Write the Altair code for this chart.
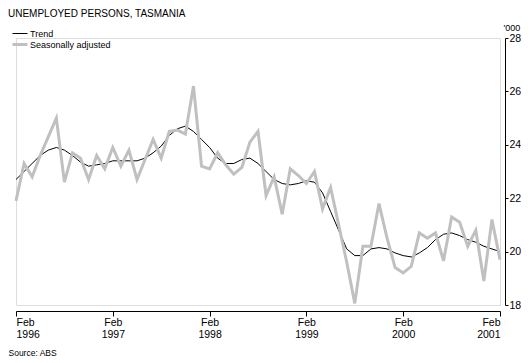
import altair as alt
import pandas as pd

# Monthly observations, Feb 1996 .. Feb 2001 ('000 persons)
trend = [22.7, 23.0, 23.3, 23.6, 23.8, 23.9, 23.8, 23.6, 23.35, 23.2, 23.25, 23.3,
         23.4, 23.4, 23.4, 23.4, 23.5, 23.7, 23.95, 24.35, 24.6, 24.7, 24.5, 24.2,
         23.9, 23.5, 23.3, 23.3, 23.45, 23.5, 23.3, 23.0, 22.7, 22.55, 22.5, 22.55,
         22.65, 22.6, 22.2, 21.5, 20.8, 20.1, 19.85, 19.85, 20.1, 20.15, 20.1, 19.95,
         19.85, 19.8, 19.95, 20.15, 20.45, 20.65, 20.7, 20.6, 20.45, 20.35, 20.2, 20.1,
         20.0]
seas_adj = [21.9, 23.3, 22.8, 23.6, 24.3, 25.0, 22.6, 23.7, 23.5, 22.7, 23.6, 23.1,
            23.9, 23.2, 23.8, 22.7, 23.45, 24.2, 23.5, 24.5, 24.55, 24.4, 26.2, 23.2,
            23.1, 23.7, 23.25, 22.9, 23.15, 24.1, 24.5, 22.1, 22.8, 21.4, 23.1, 22.85,
            22.55, 23.0, 21.6, 22.4, 21.0, 19.6, 18.06, 20.2, 20.2, 21.8, 20.5, 19.4,
            19.2, 19.45, 20.7, 20.5, 20.7, 19.65, 21.3, 21.1, 20.2, 20.8, 18.9, 21.2,
            19.7]
series_names = ["Trend", "Seasonally adjusted"]
series_colors = ["#000000", "#c0c0c0"]
series_widths = [1, 3]
tick_months = [0, 12, 24, 36, 48, 60]
y_ticks = [18, 20, 22, 24, 26, 28]

n = len(trend)
df = pd.DataFrame({
    "t": list(range(n)) * 2,
    "value": trend + seas_adj,
    "series": [series_names[0]] * n + [series_names[1]] * n,
})

FONT = "Liberation Sans"

legend = alt.Legend(
    title=None, orient="none", legendX=-5, legendY=-10, direction="vertical",
    symbolType="stroke", symbolSize=225, clipHeight=11, labelFontSize=9,
    labelFont=FONT, labelColor="#000000", padding=0, rowPadding=0,
    labelOffset=1, symbolOffset=0,
)

chart = alt.Chart(df).mark_line(strokeJoin="miter").encode(
    x=alt.X("t:Q",
            scale=alt.Scale(domain=[0, 60], nice=False, zero=False),
            axis=alt.Axis(values=tick_months, grid=False, offset=6,
                          labelExpr="['Feb', toString(1996 + floor(datum.value / 12))]",
                          labelFont=FONT, labelFontSize=10.5, labelColor="#000000",
                          labelLineHeight=12, labelPadding=1,
                          tickSize=5, tickColor="#000000", domainColor="#000000",
                          title="Source: ABS", titleFont=FONT, titleFontSize=8.5,
                          titleFontWeight="normal", titleColor="#000000",
                          titleAnchor="start", titleAlign="left", titleX=-8,
                          titleY=44, titleBaseline="alphabetic")),
    y=alt.Y("value:Q",
            scale=alt.Scale(domain=[18, 28], nice=False, zero=False),
            axis=alt.Axis(orient="right", values=y_ticks, grid=False, offset=5,
                          labelFont=FONT, labelFontSize=10.5, labelColor="#000000",
                          labelPadding=1, tickSize=3, tickColor="#000000",
                          domainColor="#000000",
                          title="'000", titleAngle=0, titleFont=FONT,
                          titleFontSize=9, titleFontWeight="normal",
                          titleColor="#000000", titleAlign="left",
                          titleX=-2, titleY=-8, titleBaseline="alphabetic")),
    color=alt.Color("series:N",
                    scale=alt.Scale(domain=series_names, range=series_colors),
                    legend=legend),
    strokeWidth=alt.StrokeWidth("series:N",
                                scale=alt.Scale(domain=series_names, range=series_widths),
                                legend=legend),
).properties(
    width=484, height=267,
    autosize=alt.AutoSizeParams(type="none"),
    padding={"left": 8, "top": 30, "right": 21, "bottom": 56},
    title=alt.TitleParams("UNEMPLOYED PERSONS, TASMANIA", anchor="start",
                          frame="group", dx=-8, fontSize=10, font=FONT,
                          fontWeight="normal", color="#000000"),
).configure_view(stroke=None).configure(background="#ffffff")

chart.save("out.html", embed_options={"renderer": "svg", "actions": False})
